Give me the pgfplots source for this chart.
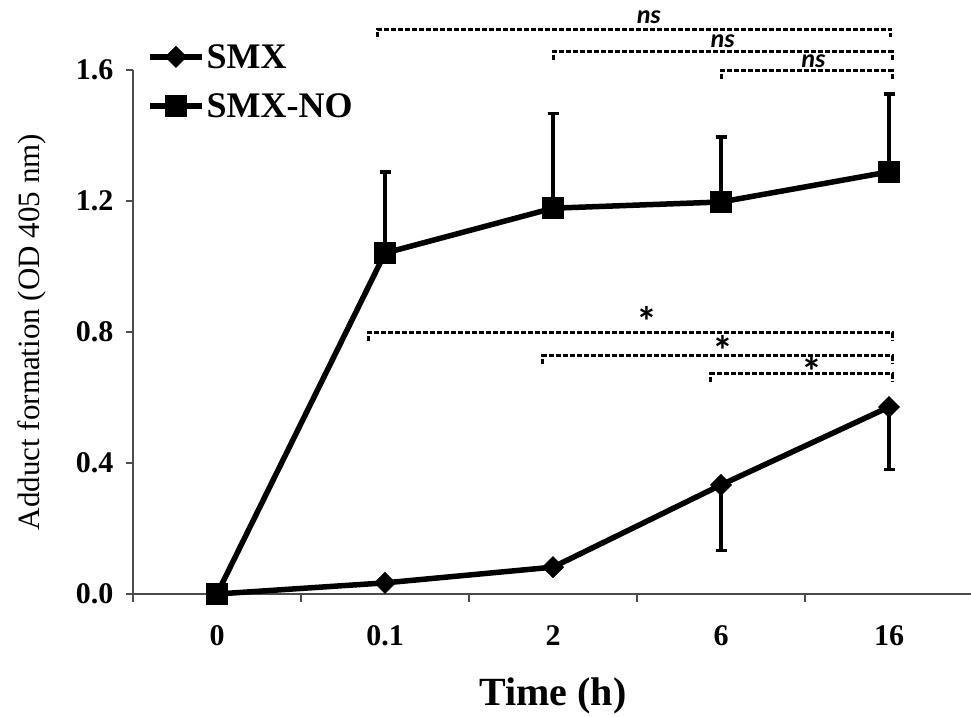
\documentclass[border=0pt]{standalone}
\usepackage{pgfplots}
\pgfplotsset{compat=1.18}
\usepackage{fontspec}
\setmainfont{Liberation Serif}
\newfontfamily\sigfont{Carlito}
\begin{document}
\begin{tikzpicture}
\begin{axis}[
  scale only axis,
  width=840pt, height=524pt,
  xmin=-0.5, xmax=4.5, ymin=0, ymax=1.6,
  clip=false,
  axis lines*=left,
  axis line style={line width=1.5pt, color=black!70},
  tick align=outside,
  major tick length=7pt,
  minor tick length=8pt,
  tick style={line width=1.5pt, color=black!70},
  xtick={0,1,2,3,4},
  xticklabels={0,0.1,2,6,16},
  major x tick style={draw=none},
  minor xtick={-0.5,0.5,1.5,2.5,3.5},
  ytick={0,0.4,0.8,1.2,1.6},
  yticklabel style={/pgf/number format/fixed, /pgf/number format/precision=1, /pgf/number format/fixed zerofill, xshift=-9pt},
  xticklabel style={yshift=-21pt},
  /pgf/number format/assume math mode=true,
  ticklabel style={font=\bfseries\fontsize{30}{30}\selectfont},
  every axis y label/.style={at={(axis description cs:0,0.5)}, xshift=-93pt, rotate=90, anchor=base},
  every axis x label/.style={at={(axis description cs:0.5,0)}, yshift=-111pt, anchor=base},
  ylabel={\fontsize{31}{31}\selectfont Adduct formation (OD 405 nm)},
  xlabel={\bfseries\fontsize{40}{40}\selectfont Time (h)},
  legend style={at={(axis description cs:0,1)}, anchor=north west, xshift=14pt, yshift=28pt,
    draw=none, fill=none, font=\bfseries\fontsize{36}{36}\selectfont, row sep=20pt,
    inner sep=0pt},
  legend cell align=left,
  legend image code/.code={\draw[#1, mark repeat=2, mark phase=2] plot coordinates {(0pt,0pt) (26pt,0pt) (52pt,0pt)};},
]
\addplot[black, line width=5.5pt, mark=square*, mark size=7.5pt, mark options={rotate=45, line width=0.5pt},
  error bars/.cd, y dir=minus, y explicit,
  error bar style={line width=3.4pt, black},
  error mark options={rotate=90, mark size=5.5pt, line width=3.4pt}]
  coordinates {(0,0) +- (0,0) (1,0.034) +- (0,0) (2,0.082) +- (0,0) (3,0.333) +- (0,0.20) (4,0.571) +- (0,0.19)};
\addlegendentry{SMX}
\addplot[black, line width=5.5pt, mark=square*, mark size=10.5pt, mark options={line width=0.5pt},
  error bars/.cd, y dir=plus, y explicit,
  error bar style={line width=3.4pt, black},
  error mark options={rotate=90, mark size=5.5pt, line width=3.4pt}]
  coordinates {(0,0) +- (0,0) (1,1.041) +- (0,0.248) (2,1.178) +- (0,0.29) (3,1.197) +- (0,0.198) (4,1.289) +- (0,0.238)};
\addlegendentry{SMX-NO}
% significance brackets
\begin{scope}[line width=3pt, dash pattern=on 5pt off 2pt]
\draw (axis cs:0.958,1.701) -- (axis cs:0.958,1.725) -- (axis cs:4.01,1.725) -- (axis cs:4.01,1.701);
\draw (axis cs:2.0,1.631) -- (axis cs:2.0,1.655) -- (axis cs:4.02,1.655) -- (axis cs:4.02,1.631);
\draw (axis cs:3.0,1.573) -- (axis cs:3.0,1.597) -- (axis cs:4.02,1.597) -- (axis cs:4.02,1.573);
\draw (axis cs:0.9,0.773) -- (axis cs:0.9,0.797) -- (axis cs:4.02,0.797) -- (axis cs:4.02,0.773);
\draw (axis cs:1.94,0.703) -- (axis cs:1.94,0.727) -- (axis cs:4.02,0.727) -- (axis cs:4.02,0.703);
\draw (axis cs:2.94,0.648) -- (axis cs:2.94,0.672) -- (axis cs:4.02,0.672) -- (axis cs:4.02,0.648);
\end{scope}
\begin{scope}[every node/.style={inner sep=0pt, font=\sigfont\bfseries\itshape\fontsize{26}{26}\selectfont}]
\node at (axis cs:2.57,1.762) {ns};
\node at (axis cs:3.01,1.689) {ns};
\node at (axis cs:3.55,1.627) {ns};
\end{scope}
\begin{scope}[every node/.style={inner sep=0pt, anchor=base, font=\sigfont\bfseries\fontsize{42}{42}\selectfont}]
\node at ([yshift=-22pt]axis cs:2.56,0.852) {*};
\node at ([yshift=-22pt]axis cs:3.01,0.766) {*};
\node at ([yshift=-22pt]axis cs:3.54,0.700) {*};
\end{scope}
\coordinate (O) at (axis cs:-0.5,0);
\end{axis}
\pgfresetboundingbox
\path (O) ++(-133pt,-122pt) rectangle ++(971pt,716pt);
\end{tikzpicture}
\end{document}
